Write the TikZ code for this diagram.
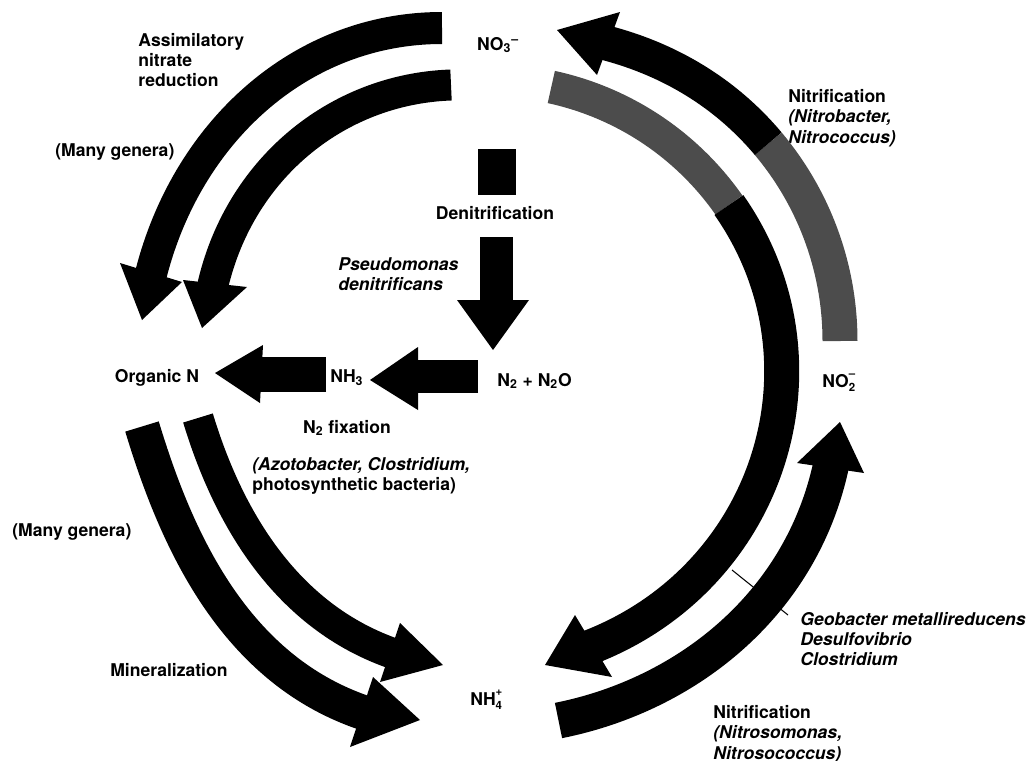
\documentclass[tikz,border=0pt]{standalone}
\usepackage{fontspec}
\setmainfont{TeX Gyre Heros}
\usetikzlibrary{calc}

\newcommand{\stackion}[3]{#1\rlap{\raisebox{-0.5ex}{\fontsize{6.5}{7}\selectfont#2}}\raisebox{1ex}{\fontsize{6.5}{7}\selectfont#3}}

\begin{document}
\begin{tikzpicture}[x=0.02cm,y=-0.02cm,
		lbl/.style={font=\fontsize{10}{11.6}\selectfont\bfseries,inner sep=0pt,align=left},
		ital/.style={lbl,font=\fontsize{10}{11.6}\selectfont\bfseries\itshape},
		flow/.style={line width=#1},
		head/.style={fill=black},
		speck/.style={draw=black!70}]
				\useasboundingbox (0,0) rectangle (1029,761);
				
				\node[lbl,anchor=west] (assim) at (138,60) {Assimilatory\\nitrate\\reduction};
				\node[lbl,anchor=west] (genera1) at (55,152) {(Many genera)};
				\node[lbl] (no3) at (498,45) {NO\textsubscript{3}\textsuperscript{--}};
				\node[lbl] (denit) at (495,213) {Denitrification};
				\node[ital,anchor=west] (pseudo) at (338,274) {Pseudomonas\\denitrificans};
				\node[lbl] (orgN) at (157,378) {Organic N};
				\node[lbl,anchor=west] (nh3) at (330,378) {NH\textsubscript{3}};
				\node[lbl,anchor=west] (n2) at (497,381) {N\textsubscript{2} + N\textsubscript{2}O};
				\node[lbl] (fix) at (347,428) {N\textsubscript{2} fixation};
				\node[lbl,anchor=west] (azoto) at (252,476) {\textit{(Azotobacter, Clostridium,}\\photosynthetic bacteria)};
				\node[lbl,anchor=west] (genera2) at (12,532) {(Many genera)};
				\node[lbl,anchor=west] (miner) at (110,670) {Mineralization};
				\node[lbl,anchor=west] (nh4) at (470,700) {\stackion{NH}{4}{+}};
				\node[lbl,anchor=west] (no2) at (822,383) {\stackion{NO}{2}{--}};
				\node[lbl,anchor=west] (nitrob) at (788,118) {Nitrification\\\textit{(Nitrobacter,}\\\textit{Nitrococcus)}};
				\node[ital,anchor=west] (geo) at (800,639) {Geobacter metallireducens\\Desulfovibrio\\Clostridium};
				\node[lbl,anchor=west] (nitros) at (713,734) {Nitrification\\\textit{(Nitrosomonas,}\\\textit{Nitrosococcus)}};
				
				\coordinate (asO) at (442,28);
				\coordinate (asOe) at (150,278);
				\coordinate (asI) at (451,85);
				\coordinate (asIe) at (212,289);
				\coordinate (niO) at (840,341);
				\coordinate (niOm) at (768.2,143.7);
				\coordinate (niOe) at (602.5,42);
				\coordinate (geI) at (551.3,87);
				\coordinate (geIm) at (728.9,205);
				\coordinate (geIe) at (587.7,648.1);
				\coordinate (nsO) at (558.5,720.5);
				\coordinate (nsOe) at (831.7,462.1);
				\coordinate (miO) at (142,426.5);
				\coordinate (miOe) at (367.2,713.9);
				\coordinate (miI) at (198,418);
				\coordinate (miIe) at (395.7,654.4);
				\coordinate (fxA) at (326,374.5);
				\coordinate (fxAe) at (255,374.5);
				\coordinate (fxAt) at (215,373);
				\coordinate (fxB) at (478,376.5);
				\coordinate (fxBe) at (412,376.5);
				\coordinate (fxBt) at (370,380);
				\coordinate (dnS) at (496.5,237);
				\coordinate (dnSe) at (496.5,306);
				\coordinate (dnSt) at (493,350);
				\coordinate (geoarc) at (732,570);
				\coordinate (geotip) at (788,615);
				
				\draw[flow=0.64cm] (asO) .. controls (299,28) and (185,134) .. (asOe);
				\fill[head] (120,263) -- (142,320) -- (182,282) -- cycle;
				\draw[flow=0.62cm] (asI) .. controls (336,89) and (238,170) .. (asIe);
				\fill[head] (183,280) -- (202,328) -- (247,287) -- cycle;
				
				\draw[flow=0.7cm,speck] (niO) .. controls (840,268.8) and (814.6,199) .. (niOm);
				\draw[flow=0.7cm] (niOm) .. controls (726.7,94.3) and (670.8,59.2) .. (niOe);
				\fill[head] (620,12) -- (557,30) -- (597,75) -- cycle;
				
				\draw[flow=0.66cm,speck] (geI) .. controls (623.3,102.6) and (686.6,144.6) .. (geIm);
				\draw[flow=0.7cm] (geIm) .. controls (838.2,361.1) and (771.4,578.4) .. (geIe);
				\fill[head] (575,615) -- (545,665) -- (612,677) -- cycle;
				
				\draw[flow=0.72cm] (nsO) .. controls (687.7,694.7) and (802.7,603.2) .. (nsOe);
				\fill[head] (797,463) -- (840,422) -- (864,473) -- cycle;
				
				\draw[flow=0.7cm] (miO) .. controls (176.2,539.5) and (234.2,670.5) .. (miOe);
				\fill[head] (373,677) -- (420,720) -- (350,747) -- cycle;
				\draw[flow=0.62cm] (miI) .. controls (227.5,515.5) and (284.9,616.9) .. (miIe);
				\fill[head] (400,623) -- (443,665) -- (380,682) -- cycle;
				
				\draw[flow=0.7cm] (fxA) -- (fxAe);
				\fill[head] (263,345) -- (fxAt) -- (260,403) -- cycle;
				\draw[flow=0.66cm] (fxB) -- (fxBe);
				\fill[head] (418,347) -- (fxBt) -- (418,410) -- cycle;
				
				\fill (478,149) rectangle (516,195);
				\draw[flow=0.66cm] (dnS) -- (dnSe);
				\fill[head] (457,300) -- (dnSt) -- (529,300) -- cycle;
				
				\draw[line width=0.6pt] (geoarc) -- (geotip);
			\end{tikzpicture}
\end{document}
